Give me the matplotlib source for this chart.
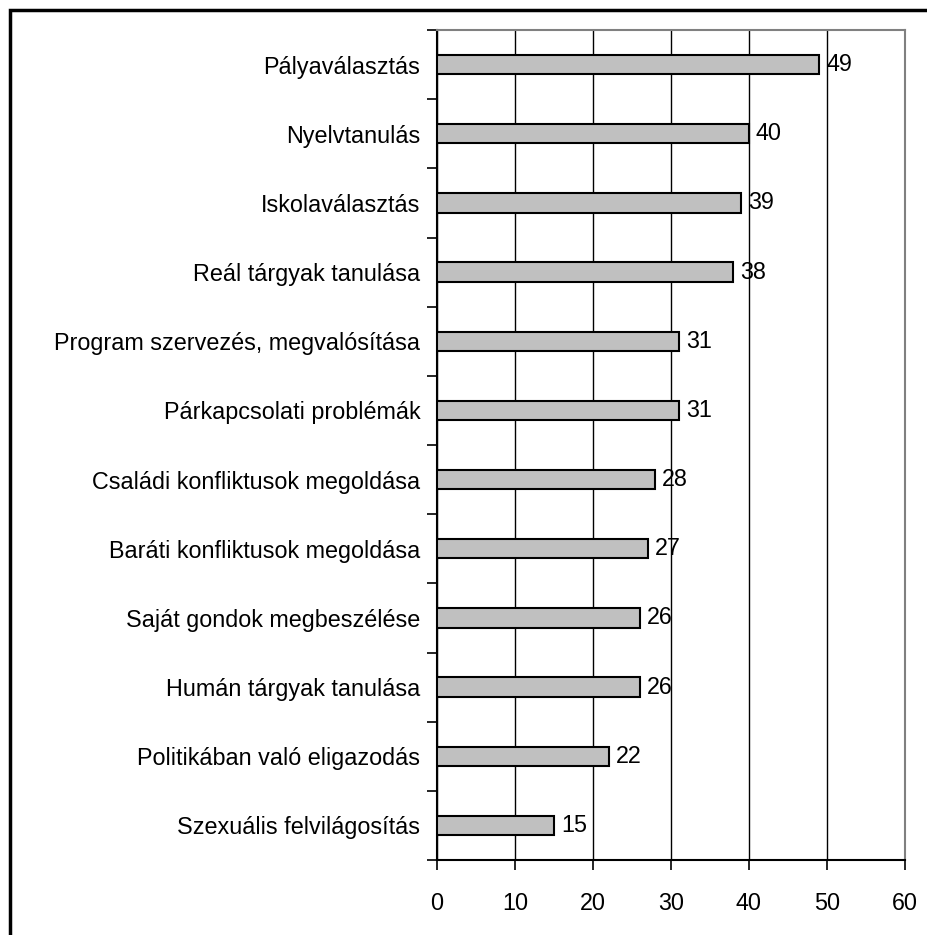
import matplotlib.pyplot as plt
from matplotlib.patches import Rectangle

# Data, top to bottom as shown in the chart
categories = [
    "Pályaválasztás",
    "Nyelvtanulás",
    "Iskolaválasztás",
    "Reál tárgyak tanulása",
    "Program szervezés, megvalósítása",
    "Párkapcsolati problémák",
    "Családi konfliktusok megoldása",
    "Baráti konfliktusok megoldása",
    "Saját gondok megbeszélése",
    "Humán tárgyak tanulása",
    "Politikában való eligazodás",
    "Szexuális felvilágosítás",
]
values = [49, 40, 39, 38, 31, 31, 28, 27, 26, 26, 22, 15]
x_ticks = [0, 10, 20, 30, 40, 50, 60]

plt.rcParams['font.family'] = ['Liberation Sans', 'DejaVu Sans']
FS = 16.8

W, H = 927, 935
fig = plt.figure(figsize=(W / 100, H / 100), dpi=100)

# outer frame, runs off the right and bottom edges like the reference
fig.patches.append(Rectangle((10 / W, -0.1), 1.2, 1 - 10 / H + 0.1,
                             transform=fig.transFigure, fill=False,
                             edgecolor='black', linewidth=2.5))

left, right, top, bottom = 437, 905, 30, 860
ax = fig.add_axes([left / W, 1 - bottom / H, (right - left) / W, (bottom - top) / H])

n = len(categories)
pos = list(range(n))
ax.barh(pos, values, height=0.28, color='#C0C0C0', edgecolor='black',
        linewidth=1.5, zorder=3)

for p, v in zip(pos, values):
    ax.annotate(str(v), (v, p), xytext=(5, 0), textcoords='offset points',
                va='center', ha='left', fontsize=FS, zorder=4)

ax.set_xlim(0, 60)
ax.set_ylim(n - 0.5, -0.5)
ax.set_xticks(x_ticks)
ax.set_xticklabels([str(t) for t in x_ticks], fontsize=FS)

# category labels centred on bars, tick marks between categories
ax.set_yticks(pos)
ax.set_yticklabels(categories, fontsize=FS)
ax.tick_params(axis='y', which='major', length=0, pad=12)
ax.set_yticks([i - 0.5 for i in range(n + 1)], minor=True)
ax.tick_params(axis='y', which='minor', length=7, width=1.2, direction='out')
ax.tick_params(axis='x', length=7, width=1.2, direction='out', pad=16)

ax.grid(axis='x', color='black', linewidth=1.0, zorder=0)
ax.set_axisbelow(True)

for s in ['top', 'right']:
    ax.spines[s].set_color('#808080')
    ax.spines[s].set_linewidth(1.5)
for s in ['left', 'bottom']:
    ax.spines[s].set_color('black')
    ax.spines[s].set_linewidth(1.5)

fig.savefig('out.png', dpi=100)
